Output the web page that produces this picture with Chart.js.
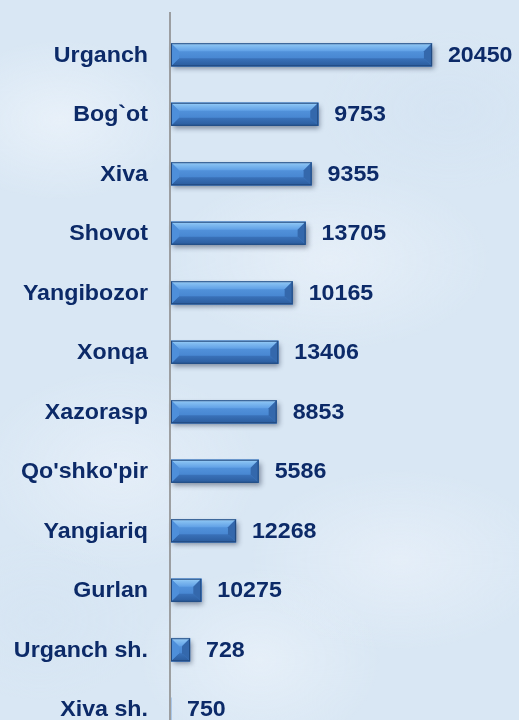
<!DOCTYPE html>
<html>
<head>
<meta charset="utf-8">
<script src="https://cdn.jsdelivr.net/npm/chart.js@4.4.1/dist/chart.umd.min.js"></script>
<style>
  html, body { margin: 0; padding: 0; width: 519px; height: 720px; overflow: hidden; }
  body {
    background-color: #d9e7f4;
    background-image:
      radial-gradient(ellipse 120px 80px at 60px 120px, rgba(242,247,253,0.6), rgba(242,247,253,0)),
      radial-gradient(ellipse 160px 90px at 330px 260px, rgba(238,244,251,0.6), rgba(238,244,251,0)),
      radial-gradient(ellipse 140px 100px at 120px 470px, rgba(240,245,252,0.5), rgba(240,245,252,0)),
      radial-gradient(ellipse 150px 90px at 400px 560px, rgba(237,243,251,0.6), rgba(237,243,251,0)),
      radial-gradient(ellipse 130px 80px at 450px 110px, rgba(208,224,241,0.4), rgba(208,224,241,0)),
      radial-gradient(ellipse 120px 90px at 260px 660px, rgba(242,247,253,0.5), rgba(242,247,253,0)),
      radial-gradient(ellipse 110px 80px at 40px 620px, rgba(210,226,242,0.4), rgba(210,226,242,0));
  }
  #wrap { position: absolute; left: 0; top: 0; width: 519px; height: 745px; }
  #c { display: block; width: 519px; height: 745px; }
</style>
</head>
<body>
<div id="wrap"><canvas id="c" width="519" height="745"></canvas></div>
<script>
const categories = ["Urganch", "Bog`ot", "Xiva", "Shovot", "Yangibozor", "Xonqa", "Xazorasp", "Qo'shko'pir", "Yangiariq", "Gurlan", "Urganch sh.", "Xiva sh."];
const barValues = [20450, 11540, 11020, 10550, 9535, 8405, 8280, 6870, 5090, 2375, 1490, 0];
const labelValues = [20450, 9753, 9355, 13705, 10165, 13406, 8853, 5586, 12268, 10275, 728, 750];
const xMax = 25000;

const textColor = '#0c2a68';
const labelFont = 'bold 22px "Liberation Sans", Arial, sans-serif';
const textStretch = 1.055;

function stretchedText(ctx, text, x, y, align) {
  ctx.save();
  ctx.translate(x, y);
  ctx.scale(textStretch, 1);
  ctx.textAlign = align;
  ctx.fillText(text, 0, 0);
  ctx.restore();
}

const axisLine = {
  id: 'axisLine',
  afterDraw(chart) {
    const ctx = chart.ctx;
    const x = chart.chartArea.left - 1;
    ctx.save();
    ctx.strokeStyle = '#8c8c8c';
    ctx.lineWidth = 1.6;
    ctx.beginPath();
    ctx.moveTo(x, 12);
    ctx.lineTo(x, chart.height);
    ctx.stroke();
    ctx.restore();
  }
};

const categoryLabels = {
  id: 'categoryLabels',
  afterDraw(chart) {
    const ctx = chart.ctx;
    const yScale = chart.scales.y;
    ctx.save();
    ctx.font = labelFont;
    ctx.fillStyle = textColor;
    ctx.textBaseline = 'middle';
    categories.forEach((c, i) => {
      stretchedText(ctx, c, chart.chartArea.left - 23, yScale.getPixelForValue(i) + 1, 'right');
    });
    ctx.restore();
  }
};

const bevelBars = {
  id: 'bevelBars',
  afterDatasetsDraw(chart) {
    const ctx = chart.ctx;
    const meta = chart.getDatasetMeta(0);
    meta.data.forEach((bar, i) => {
      const x0 = Math.min(bar.base, bar.x), x1 = Math.max(bar.base, bar.x);
      const y0 = bar.y - bar.height / 2, y1 = bar.y + bar.height / 2;
      const w = x1 - x0, h = y1 - y0;
      if (w < 1) return;
      const b = Math.min(8, w / 2);
      ctx.save();
      ctx.shadowColor = 'rgba(20,30,60,0.45)';
      ctx.shadowBlur = 5;
      ctx.shadowOffsetX = 2;
      ctx.shadowOffsetY = 3;
      ctx.fillStyle = '#3f7ecb';
      ctx.fillRect(x0, y0, w, h);
      ctx.restore();

      ctx.save();
      let g = ctx.createLinearGradient(0, y0, 0, y1);
      g.addColorStop(0, '#5c9de4');
      g.addColorStop(1, '#3d7bc8');
      ctx.fillStyle = g;
      ctx.fillRect(x0, y0, w, h);
      g = ctx.createLinearGradient(0, y0, 0, y0 + b);
      g.addColorStop(0, '#b4dcfc');
      g.addColorStop(0.25, '#86c0f2');
      g.addColorStop(1, '#60a0e6');
      ctx.fillStyle = g;
      ctx.beginPath();
      ctx.moveTo(x0, y0); ctx.lineTo(x1, y0); ctx.lineTo(x1 - b, y0 + b); ctx.lineTo(x0 + b, y0 + b); ctx.closePath();
      ctx.fill();
      g = ctx.createLinearGradient(0, y1 - b, 0, y1);
      g.addColorStop(0, '#3a72ba');
      g.addColorStop(1, '#2a5b9c');
      ctx.fillStyle = g;
      ctx.beginPath();
      ctx.moveTo(x0, y1); ctx.lineTo(x1, y1); ctx.lineTo(x1 - b, y1 - b); ctx.lineTo(x0 + b, y1 - b); ctx.closePath();
      ctx.fill();
      ctx.fillStyle = '#3468ac';
      ctx.beginPath();
      ctx.moveTo(x1, y0); ctx.lineTo(x1, y1); ctx.lineTo(x1 - b, y1 - b); ctx.lineTo(x1 - b, y0 + b); ctx.closePath();
      ctx.fill();
      ctx.fillStyle = '#4e8fda';
      ctx.beginPath();
      ctx.moveTo(x0, y0); ctx.lineTo(x0, y1); ctx.lineTo(x0 + b, y1 - b); ctx.lineTo(x0 + b, y0 + b); ctx.closePath();
      ctx.fill();
      ctx.strokeStyle = '#21497f';
      ctx.lineWidth = 1;
      ctx.strokeRect(x0 + 0.5, y0 + 0.5, w - 1, h - 1);
      ctx.restore();
    });
  },
  afterDraw(chart) {
    const ctx = chart.ctx;
    const meta = chart.getDatasetMeta(0);
    ctx.save();
    ctx.font = labelFont;
    ctx.fillStyle = textColor;
    ctx.textBaseline = 'middle';
    meta.data.forEach((bar, i) => {
      stretchedText(ctx, String(labelValues[i]), Math.max(bar.x, bar.base) + 16, bar.y + 1, 'left');
    });
    ctx.restore();
  }
};

new Chart(document.getElementById('c'), {
  type: 'bar',
  data: {
    labels: categories,
    datasets: [{
      data: barValues,
      backgroundColor: '#4a8ad6',
      borderWidth: 0,
      barThickness: 23
    }]
  },
  options: {
    indexAxis: 'y',
    responsive: false,
    maintainAspectRatio: false,
    devicePixelRatio: 1,
    animation: false,
    layout: { padding: { top: 25, bottom: 6, right: 29, left: 0 } },
    plugins: { legend: { display: false }, tooltip: { enabled: false } },
    scales: {
      x: { display: false, min: 0, max: xMax },
      y: {
        afterFit(s) { s.width = 171; },
        grid: { display: false },
        border: { display: false },
        ticks: { display: false }
      }
    }
  },
  plugins: [bevelBars, axisLine, categoryLabels]
});
</script>
</body>
</html>
